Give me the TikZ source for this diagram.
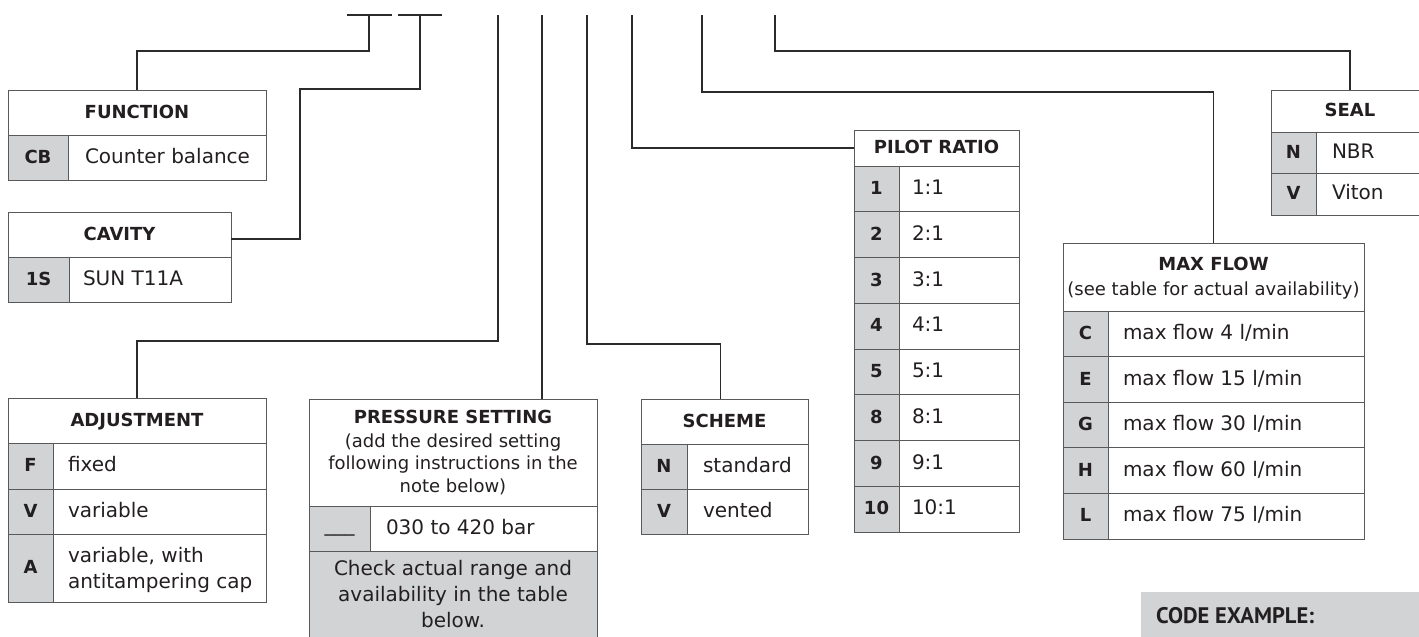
\documentclass[tikz,border=0pt]{standalone}
\usepackage{fontspec}
\setmainfont{DejaVu Sans}
\newfontfamily\codefont{PT Sans}
\usetikzlibrary{calc}
\definecolor{keyg}{HTML}{D1D3D4}
\definecolor{bordc}{HTML}{58595B}
\definecolor{linec}{HTML}{2B2B2B}
\definecolor{txtc}{HTML}{231F20}
\newcommand\mybody{\fontsize{20pt}{26pt}\selectfont}
\newcommand\mysub{\fontsize{18pt}{22pt}\selectfont}
\newcommand\myhead{\fontsize{18pt}{22pt}\selectfont\bfseries}
\begin{document}
\begin{tikzpicture}[x=1pt,y=-1pt,
  cell/.style={draw=bordc, line width=1pt, inner sep=0pt, outer sep=0pt, anchor=north west},
  keyc/.style={cell, fill=keyg},
  tc/.style={inner sep=0pt, outer sep=0pt, text=txtc, text height=11.5pt, text depth=0pt},
  hdt/.style={tc, font=\myhead},
  vt/.style={tc, font=\mybody, anchor=west},
  bt/.style={inner sep=0pt, outer sep=0pt, text=txtc, font=\mybody, anchor=base west},
  sbt/.style={inner sep=0pt, outer sep=0pt, text=txtc, font=\mysub, anchor=base},
  conn/.style={draw=linec, line width=1.1pt},
]
\useasboundingbox (0,0) rectangle (1419,637);

% ---------- FUNCTION ----------
\node[cell, minimum width=258pt, minimum height=45pt] (fun-h) at (8,90) {};
\node[hdt] (fun-ht) at (fun-h) {FUNCTION};
\node[keyc, minimum width=60pt, minimum height=45pt] (fun-k1) at (8,135) {};
\node[cell, minimum width=198pt, minimum height=45pt] (fun-v1) at (68,135) {};
\node[hdt] (fun-kt1) at (fun-k1) {CB};
\node[vt] (fun-vt1) at ($(fun-v1.west)+(17,0)$) {Counter balance};

% ---------- CAVITY ----------
\node[cell, minimum width=223pt, minimum height=45pt] (cav-h) at (8,212) {};
\node[hdt] (cav-ht) at (cav-h) {CAVITY};
\node[keyc, minimum width=61pt, minimum height=45pt] (cav-k1) at (8,257) {};
\node[cell, minimum width=162pt, minimum height=45pt] (cav-v1) at (69,257) {};
\node[hdt] (cav-kt1) at (cav-k1) {1S};
\node[vt] (cav-vt1) at ($(cav-v1.west)+(14,0)$) {SUN T11A};
\coordinate (cav-in) at ($(cav-h.south east)+(0,-18)$);

% ---------- ADJUSTMENT ----------
\node[cell, minimum width=258pt, minimum height=45pt] (adj-h) at (8,398) {};
\node[hdt] (adj-ht) at (adj-h) {ADJUSTMENT};
\node[keyc, minimum width=45pt, minimum height=46pt] (adj-k1) at (8,443) {};
\node[cell, minimum width=213pt, minimum height=46pt] (adj-v1) at (53,443) {};
\node[keyc, minimum width=45pt, minimum height=45pt] (adj-k2) at (8,489) {};
\node[cell, minimum width=213pt, minimum height=45pt] (adj-v2) at (53,489) {};
\node[keyc, minimum width=45pt, minimum height=68pt] (adj-k3) at (8,534) {};
\node[cell, minimum width=213pt, minimum height=68pt] (adj-v3) at (53,534) {};
\node[hdt] (adj-kt1) at (adj-k1) {F};
\node[hdt] (adj-kt2) at (adj-k2) {V};
\node[hdt] (adj-kt3) at (adj-k3) {A};
\node[vt] (adj-vt1) at ($(adj-v1.west)+(15,0)$) {fixed};
\node[vt] (adj-vt2) at ($(adj-v2.west)+(15,0)$) {variable};
\node[bt] (adj-vt3a) at (68,562) {variable, with};
\node[bt] (adj-vt3b) at (68,588) {antitampering cap};

% ---------- PRESSURE SETTING ----------
\node[cell, minimum width=288pt, minimum height=107pt] (prs-h) at (309,399) {};
\node[inner sep=0pt, text=txtc, font=\myhead, anchor=base] (prs-ht) at (453,423) {PRESSURE SETTING};
\node[sbt] (prs-s1) at (453,447) {(add the desired setting};
\node[sbt] (prs-s2) at (453,469) {following instructions in the};
\node[sbt] (prs-s3) at (453,492) {note below)};
\node[keyc, minimum width=61pt, minimum height=45pt] (prs-k1) at (309,506) {};
\node[cell, minimum width=227pt, minimum height=45pt] (prs-v1) at (370,506) {};
\node[tc, font=\mybody] (prs-kt1) at ($(prs-k1)+(0,-3)$) {\_\_\_};
\node[vt] (prs-vt1) at ($(prs-v1.west)+(16,0)$) {030 to 420 bar};
\node[keyc, minimum width=288pt, minimum height=100pt] (prs-n) at (309,551) {};
\node[inner sep=0pt, text=txtc, font=\mybody, anchor=base] (prs-n1) at (453,575) {Check actual range and};
\node[inner sep=0pt, text=txtc, font=\mybody, anchor=base] (prs-n2) at (453,601) {availability in the table};
\node[inner sep=0pt, text=txtc, font=\mybody, anchor=base] (prs-n3) at (453,627) {below.};

% ---------- SCHEME ----------
\node[cell, minimum width=167pt, minimum height=45pt] (sch-h) at (641,399) {};
\node[hdt] (sch-ht) at (sch-h) {SCHEME};
\node[keyc, minimum width=46pt, minimum height=45pt] (sch-k1) at (641,444) {};
\node[cell, minimum width=121pt, minimum height=45pt] (sch-v1) at (687,444) {};
\node[keyc, minimum width=46pt, minimum height=45pt] (sch-k2) at (641,489) {};
\node[cell, minimum width=121pt, minimum height=45pt] (sch-v2) at (687,489) {};
\node[hdt] (sch-kt1) at (sch-k1) {N};
\node[hdt] (sch-kt2) at (sch-k2) {V};
\node[vt] (sch-vt1) at ($(sch-v1.west)+(16,0)$) {standard};
\node[vt] (sch-vt2) at ($(sch-v2.west)+(16,0)$) {vented};

% ---------- PILOT RATIO ----------
\node[cell, minimum width=165pt, minimum height=36pt] (pil-h) at (854,130) {};
\node[hdt] (pil-ht) at (pil-h) {PILOT RATIO};
\foreach \k/\v [count=\i from 0] in {1/1:1, 2/2:1, 3/3:1, 4/4:1, 5/5:1, 8/8:1, 9/9:1, 10/10:1}{
  \node[keyc, minimum width=45pt, minimum height=45.75pt] (pil-k\i) at (854,{166+\i*45.75}) {};
  \node[cell, minimum width=120pt, minimum height=45.75pt] (pil-v\i) at (899,{166+\i*45.75}) {};
  \node[hdt] (pil-kt\i) at (pil-k\i) {\k};
  \node[vt] (pil-vt\i) at ($(pil-v\i.west)+(13,0)$) {\v};
}

% ---------- MAX FLOW ----------
\node[cell, minimum width=301pt, minimum height=68pt] (mf-h) at (1063,243) {};
\node[inner sep=0pt, text=txtc, font=\myhead, anchor=base] (mf-ht) at (1213.5,270) {MAX FLOW};
\node[sbt] (mf-st) at (1213.5,295) {(see table for actual availability)};
\foreach \k/\v [count=\i from 0] in {C/4, E/15, G/30, H/60, L/75}{
  \node[keyc, minimum width=45pt, minimum height=45.6pt] (mf-k\i) at (1063,{311+\i*45.6}) {};
  \node[cell, minimum width=256pt, minimum height=45.6pt] (mf-v\i) at (1108,{311+\i*45.6}) {};
  \node[hdt] (mf-kt\i) at (mf-k\i) {\k};
  \node[vt] (mf-vt\i) at ($(mf-v\i.west)+(15,0)$) {max flow \v\ l/min};
}

% ---------- SEAL ----------
\node[cell, minimum width=158pt, minimum height=42pt] (seal-h) at (1271,90) {};
\node[hdt] (seal-ht) at (seal-h) {SEAL};
\node[keyc, minimum width=45pt, minimum height=41pt] (seal-k1) at (1271,132) {};
\node[cell, minimum width=113pt, minimum height=41pt] (seal-v1) at (1316,132) {};
\node[keyc, minimum width=45pt, minimum height=42pt] (seal-k2) at (1271,173) {};
\node[cell, minimum width=113pt, minimum height=42pt] (seal-v2) at (1316,173) {};
\node[hdt] (seal-kt1) at (seal-k1) {N};
\node[hdt] (seal-kt2) at (seal-k2) {V};
\node[vt] (seal-vt1) at ($(seal-v1.west)+(16,0)$) {NBR};
\node[vt] (seal-vt2) at ($(seal-v2.west)+(16,0)$) {Viton};

% ---------- CODE EXAMPLE ----------
\node[fill=keyg, inner sep=0pt, outer sep=0pt, anchor=north west, minimum width=290pt, minimum height=60pt] (code-b) at (1141,592) {};
\node[inner sep=0pt, text=txtc, font={\codefont\bfseries\fontsize{22.5pt}{28pt}\selectfont}, anchor=base west] (code-t) at (1156,623) {CODE EXAMPLE:};

% ---------- code slots ----------
\coordinate (b1a) at (347,15); \coordinate (b1b) at (392,15);
\coordinate (b2a) at (398,15); \coordinate (b2b) at (442,15);
\draw[conn] (b1a) -- (b1b);
\draw[conn] (b2a) -- (b2b);
\coordinate (s1) at (369,15);
\coordinate (s2) at (420,15);
\coordinate (s3) at (498,15);
\coordinate (s4) at (542,15);
\coordinate (s5) at (587,15);
\coordinate (s6) at (632,15);
\coordinate (s7) at (702,15);
\coordinate (s8) at (775,15);

% ---------- connectors ----------
\draw[conn] (s1) -- ++(0,36) -| (fun-h.north);
\draw[conn] (s2) -- ++(0,74) -- (300,89) |- (cav-in);
\draw[conn] (s3) -- ++(0,326) -| (adj-h.north);
\draw[conn] (s4) -- (s4 |- prs-h.north);
\draw[conn] (s5) -- ++(0,329) -| ($(sch-h.north)+(-4,0)$);
\draw[conn] (s6) |- (pil-h.west);
\draw[conn] (s7) -- ++(0,77) -| (mf-h.north);
\draw[conn] (s8) -- ++(0,36) -| (seal-h.north);
\end{tikzpicture}
\end{document}
